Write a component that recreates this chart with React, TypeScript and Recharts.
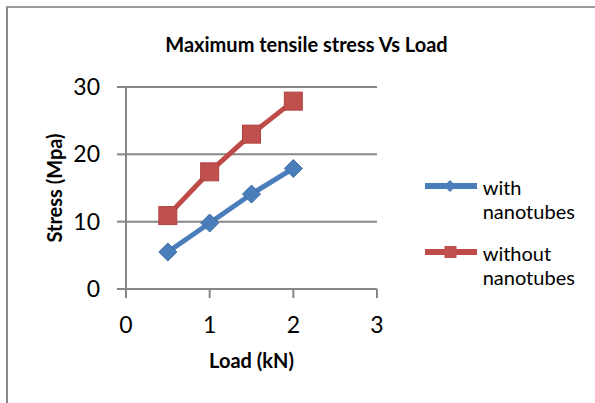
import React from 'react';
import { LineChart, Line, XAxis, YAxis, CartesianGrid, Legend, Label } from 'recharts';

// values
const loads = [0.5, 1, 1.5, 2];
const withNanotubes = [5.5, 9.8, 14.1, 17.9];
const withoutNanotubes = [10.9, 17.4, 23.0, 27.9];
const xTicks = [0, 1, 2, 3];
const yTicks = [0, 10, 20, 30];

const chartData = loads.map((load, i) => ({
  load,
  withNano: withNanotubes[i],
  withoutNano: withoutNanotubes[i],
}));

const FONT = 'Lato, "Open Sans", sans-serif';
const GRID = '#878787';
const BLUE = '#4a7ebb';
const RED = '#be4b48';

const DiamondDot = (props: any) => {
  const { cx, cy, index } = props;
  if (cx == null || cy == null) return null;
  const r = 9;
  return (
    <polygon
      key={`dia-${index}`}
      points={`${cx},${cy - r} ${cx + r},${cy} ${cx},${cy + r} ${cx - r},${cy}`}
      fill={BLUE}
      stroke="#3d6ba3"
      strokeWidth={1}
    />
  );
};

const SquareDot = (props: any) => {
  const { cx, cy, index } = props;
  if (cx == null || cy == null) return null;
  const h = 9;
  return (
    <rect
      key={`sq-${index}`}
      x={cx - h}
      y={cy - h}
      width={h * 2}
      height={h * 2}
      fill="#c0504d"
      stroke="#b0433f"
      strokeWidth={1}
    />
  );
};

const legendItems = [
  { name: 'with nanotubes', color: BLUE, marker: 'diamond' },
  { name: 'without nanotubes', color: RED, marker: 'square' },
];

const renderLegend = () => (
  <div style={{ fontFamily: FONT, fontSize: 20, lineHeight: '24.7px', color: '#000' }}>
    {legendItems.map((item, i) => (
      <div key={item.name} style={{ display: 'flex', alignItems: 'flex-start', marginBottom: i === 0 ? 16.6 : 0 }}>
        <svg width={52} height={24.7} style={{ display: 'block', flex: 'none' }}>
          <line x1={0} x2={52} y1={11} y2={11} stroke={item.color} strokeWidth={6} />
          {item.marker === 'diamond' ? (
            <polygon points="25,5 31,11 25,17 19,11" fill={item.color} />
          ) : (
            <rect x={19.5} y={5} width={12} height={12} fill="#c0504d" />
          )}
        </svg>
        <div style={{ marginLeft: 5.7, width: 105 }}>{item.name}</div>
      </div>
    ))}
  </div>
);

const YTitle = (props: any) => {
  const { viewBox } = props;
  const cx = viewBox.x + 62;
  const cy = viewBox.y + viewBox.height / 2;
  return (
    <text
      x={cx}
      y={cy}
      transform={`rotate(-90, ${cx}, ${cy})`}
      textAnchor="middle"
      style={{ fontFamily: FONT, fontSize: 20, fontWeight: 700, fill: '#000' }}
    >
      Stress (Mpa)
    </text>
  );
};

export default function App() {
  return (
    <div
      style={{
        position: 'absolute',
        left: 0,
        top: 0,
        width: 595,
        height: 403,
        overflow: 'hidden',
        background: '#fff',
      }}
    >
      {/* chart frame, only top/left edges visible in the crop */}
      <div
        style={{
          position: 'absolute',
          left: 6,
          top: 6,
          width: 640,
          height: 440,
          borderLeft: '2px solid #888',
          borderTop: '2px solid #9a9a9a',
        }}
      />
      <div
        style={{
          position: 'absolute',
          left: 106.5,
          top: 33.5,
          width: 400,
          textAlign: 'center',
          fontFamily: FONT,
          fontWeight: 700,
          fontSize: 20,
          lineHeight: '20px',
          color: '#000',
          whiteSpace: 'nowrap',
        }}
      >
        Maximum tensile stress Vs Load
      </div>
      <div style={{ position: 'absolute', left: 0, top: 0 }}>
        <LineChart width={595} height={403} data={chartData} margin={{ top: 87, right: 218, bottom: 0, left: 0 }}>
          <CartesianGrid vertical={false} stroke={GRID} strokeWidth={2} />
          <XAxis
            dataKey="load"
            type="number"
            domain={[0, 3]}
            ticks={xTicks}
            height={114}
            tickSize={9}
            tickMargin={19}
            stroke={GRID}
            strokeWidth={2}
            tick={{ fill: '#000', fontSize: 23, fontFamily: FONT }}
          >
            <Label
              value="Load (kN)"
              position="insideBottom"
              offset={35}
              style={{ fontFamily: FONT, fontSize: 20, fontWeight: 700, fill: '#000' }}
            />
          </XAxis>
          <YAxis
            type="number"
            domain={[0, 30]}
            ticks={yTicks}
            width={126}
            tickSize={9}
            tickMargin={17}
            stroke={GRID}
            strokeWidth={2}
            tick={{ fill: '#000', fontSize: 23, fontFamily: FONT }}
          >
            <Label content={<YTitle />} />
          </YAxis>
          <Legend
            layout="horizontal"
            verticalAlign="middle"
            align="center"
            content={renderLegend}
            wrapperStyle={{ left: 425, top: 174.6, width: 170 }}
          />
          <Line
            type="linear"
            dataKey="withNano"
            name="with nanotubes"
            stroke={BLUE}
            strokeWidth={5}
            strokeLinejoin="round"
            dot={DiamondDot}
            activeDot={false}
            isAnimationActive={false}
          />
          <Line
            type="linear"
            dataKey="withoutNano"
            name="without nanotubes"
            stroke={RED}
            strokeWidth={5}
            strokeLinejoin="round"
            dot={SquareDot}
            activeDot={false}
            isAnimationActive={false}
          />
        </LineChart>
      </div>
    </div>
  );
}
